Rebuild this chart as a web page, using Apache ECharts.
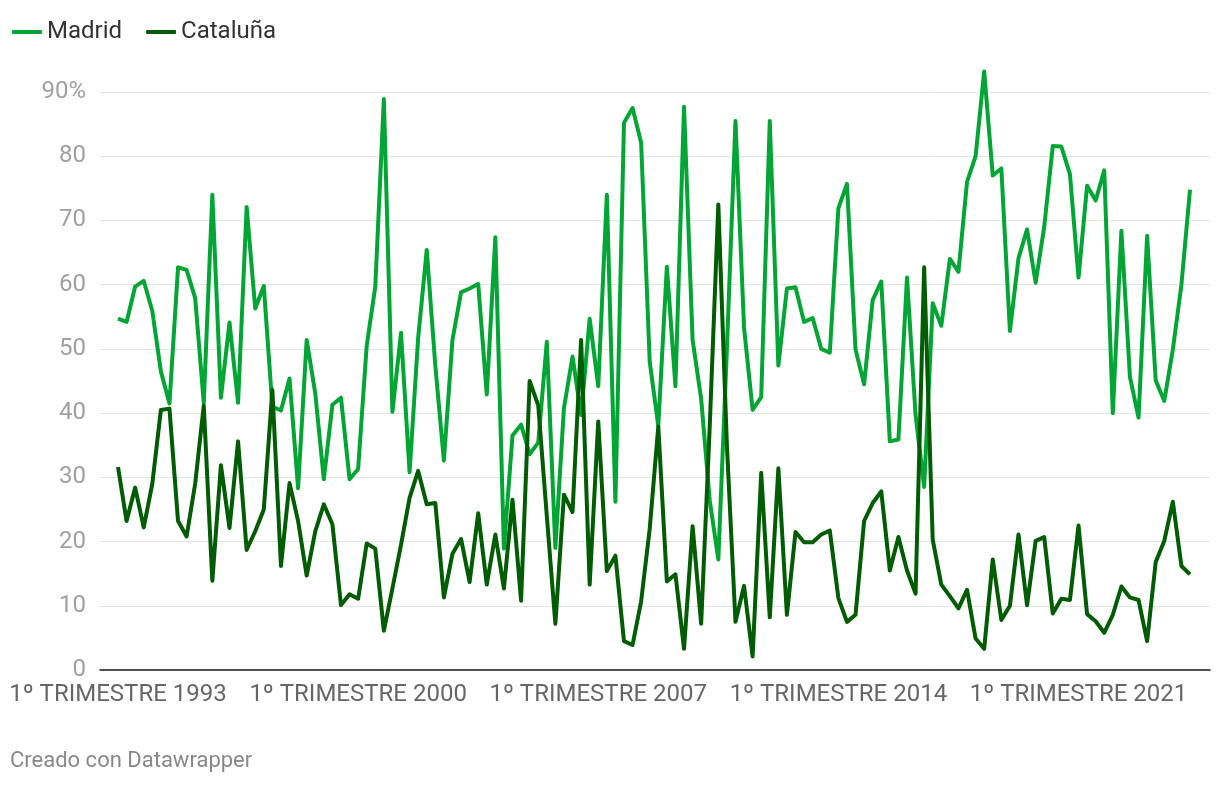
<!DOCTYPE html>
<html>
<head>
<meta charset="utf-8">
<title>Madrid vs Cataluña</title>
<script src="https://cdn.jsdelivr.net/npm/echarts@6/dist/echarts.min.js"></script>
<style>
  html, body { margin: 0; padding: 0; background: #fff; }
  #chart { width: 1220px; height: 786px; }
</style>
</head>
<body>
<div id="chart"></div>
<script>
// trimestres desde 1993 T1 hasta 2024 T2
const firstYear = 1993
const quarterCount = 126
const categories = []
for (let i = 0; i < quarterCount; i++) {
  categories.push((i % 4 + 1) + 'º TRIMESTRE ' + (firstYear + Math.floor(i / 4)))
}

const madrid = [
  54.7, 54.2, 59.7, 60.6, 55.9, 46.5, 41.5, 62.7, 62.3, 57.9,
  41.6, 74.0, 42.4, 54.1, 41.6, 72.1, 56.3, 59.8, 41.0, 40.4,
  45.4, 28.3, 51.4, 43.1, 29.7, 41.3, 42.4, 29.7, 31.3, 50.5,
  59.7, 88.9, 40.2, 52.5, 30.8, 51.7, 65.4, 47.4, 32.6, 51.4,
  58.8, 59.4, 60.1, 42.9, 67.4, 18.9, 36.5, 38.2, 33.6, 35.4,
  51.1, 19.0, 40.8, 48.8, 39.7, 54.7, 44.2, 74.0, 26.2, 85.2,
  87.5, 82.1, 48.0, 38.0, 62.8, 44.2, 87.7, 51.4, 42.2, 26.4,
  17.2, 50.0, 85.5, 53.3, 40.5, 42.5, 85.5, 47.4, 59.4, 59.6,
  54.2, 54.8, 50.0, 49.4, 71.9, 75.7, 49.9, 44.5, 57.6, 60.5,
  35.6, 35.9, 61.1, 39.7, 28.5, 57.1, 53.6, 64.0, 62.0, 76.0,
  80.0, 93.2, 77.0, 78.1, 52.8, 64.1, 68.6, 60.3, 69.0, 81.6,
  81.5, 77.2, 61.1, 75.4, 73.1, 77.8, 40.0, 68.4, 45.6, 39.3,
  67.6, 45.1, 41.9, 49.9, 60.0, 74.8
]

const cataluna = [
  31.6, 23.2, 28.4, 22.2, 29.0, 40.5, 40.7, 23.2, 20.8, 29.0,
  41.2, 13.9, 31.9, 22.1, 35.6, 18.7, 21.6, 25.0, 43.6, 16.2,
  29.1, 23.2, 14.7, 21.6, 25.8, 22.7, 10.1, 11.8, 11.1, 19.7,
  18.9, 6.1, 12.7, 19.5, 26.8, 31.0, 25.8, 26.0, 11.3, 18.1,
  20.4, 13.7, 24.4, 13.3, 21.1, 12.7, 26.5, 10.8, 45.0, 41.2,
  24.0, 7.2, 27.3, 24.6, 51.4, 13.3, 38.7, 15.4, 17.8, 4.5,
  3.9, 10.7, 22.0, 37.9, 13.8, 14.9, 3.3, 22.4, 7.2, 38.0,
  72.5, 35.0, 7.5, 13.1, 2.1, 30.7, 8.2, 31.4, 8.6, 21.5,
  19.9, 19.9, 21.1, 21.7, 11.2, 7.5, 8.6, 23.2, 26.0, 27.8,
  15.5, 20.7, 15.5, 11.9, 62.7, 20.3, 13.3, 11.5, 9.6, 12.5,
  4.9, 3.3, 17.2, 7.8, 10.0, 21.1, 10.1, 20.1, 20.7, 8.8,
  11.1, 10.9, 22.5, 8.7, 7.6, 5.8, 8.6, 13.0, 11.3, 10.9,
  4.5, 16.8, 20.1, 26.2, 16.2, 14.9
]

const yMin = 0
const yMax = 90
const yStep = 10
const labelEvery = 28

const chart = echarts.init(document.getElementById('chart'))

const options = {
  animation: false,
  textStyle: { fontFamily: 'Roboto' },
  legend: {
    left: 7,
    top: 15,
    icon: 'roundRect',
    itemWidth: 30,
    itemHeight: 4,
    itemGap: 24,
    textStyle: { fontSize: 24, color: '#333333', fontFamily: 'Roboto' },
    data: ['Madrid', 'Cataluña']
  },
  grid: [
    // rejilla de fondo: líneas de guía y eje base
    { left: 100, right: 10, top: 92, bottom: 116 },
    // rejilla de datos
    { left: 118, right: 30, top: 92, bottom: 116 }
  ],
  xAxis: [
    {
      gridIndex: 0,
      type: 'value',
      min: 0,
      max: 1,
      axisLine: { show: true, lineStyle: { color: '#1a1a1a', width: 1.5 } },
      axisTick: { show: false },
      axisLabel: { show: false },
      splitLine: { show: false }
    },
    {
      gridIndex: 1,
      type: 'category',
      data: categories,
      boundaryGap: false,
      axisLine: { show: false },
      axisTick: { show: false },
      splitLine: { show: false },
      axisLabel: {
        interval: labelEvery - 1,
        margin: 13,
        fontSize: 24,
        color: '#666666',
        fontFamily: 'Roboto'
      }
    }
  ],
  yAxis: [
    {
      gridIndex: 0,
      type: 'value',
      min: yMin,
      max: yMax,
      interval: yStep,
      axisLine: { show: false },
      axisTick: { show: false },
      axisLabel: {
        margin: 14,
        fontSize: 24,
        color: '#a0a0a0',
        fontFamily: 'Roboto',
        formatter: v => (v === yMax ? v + '%' : String(v))
      },
      splitLine: { show: true, lineStyle: { color: '#e3e3e3', width: 1 } }
    },
    {
      gridIndex: 1,
      type: 'value',
      min: yMin,
      max: yMax,
      interval: yStep,
      show: false,
      splitLine: { show: false }
    }
  ],
  series: [
    {
      name: 'Madrid',
      type: 'line',
      xAxisIndex: 1,
      yAxisIndex: 1,
      data: madrid,
      showSymbol: false,
      clip: false,
      itemStyle: { color: '#03a634' },
      lineStyle: { color: '#03a634', width: 4, join: 'round' }
    },
    {
      name: 'Cataluña',
      type: 'line',
      xAxisIndex: 1,
      yAxisIndex: 1,
      data: cataluna,
      showSymbol: false,
      clip: false,
      itemStyle: { color: '#025c04' },
      lineStyle: { color: '#025c04', width: 4, join: 'round' }
    }
  ],
  graphic: [
    {
      type: 'text',
      left: 10,
      top: 750,
      style: {
        text: 'Creado con Datawrapper',
        fontSize: 22,
        fill: '#888888',
        fontFamily: 'Roboto'
      }
    }
  ]
}

chart.setOption(options)
</script>
</body>
</html>
